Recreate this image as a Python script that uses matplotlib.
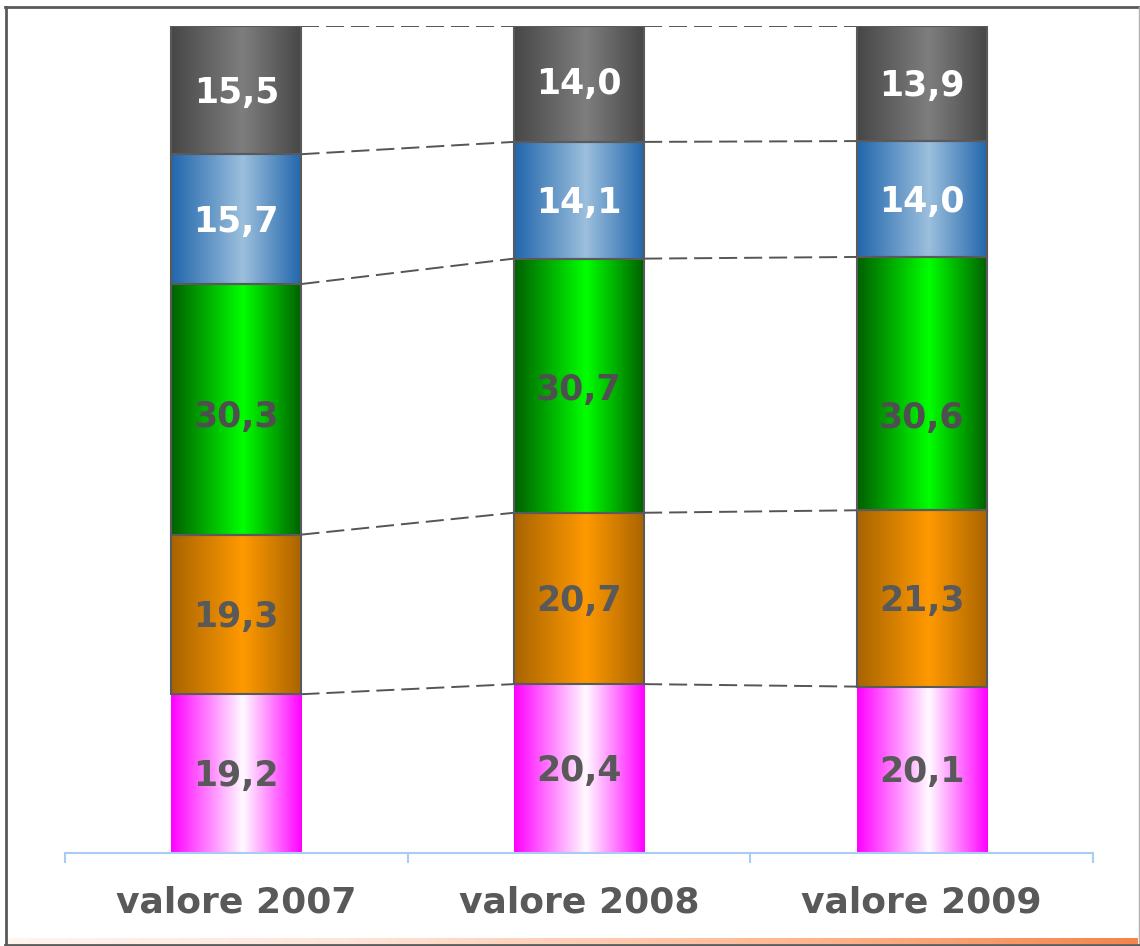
import numpy as np
import matplotlib.pyplot as plt
from matplotlib.colors import LinearSegmentedColormap
from matplotlib.lines import Line2D

plt.rcParams['lines.scale_dashes'] = False

# dati (percentuali per anno)
categorie = ['valore 2007', 'valore 2008', 'valore 2009']
rosa = [19.2, 20.4, 20.1]
arancio = [19.3, 20.7, 21.3]
verde = [30.3, 30.7, 30.6]
blu = [15.7, 14.1, 14.0]
grigio = [15.5, 14.0, 13.9]

serie = [rosa, arancio, verde, blu, grigio]
col_bordo = ['#FF00FF', '#A86400', '#005F00', '#2166AC', '#474747']
col_centro = ['#FFFAFF', '#FF9900', '#00FF00', '#9CBFDD', '#7E7E7E']
col_linea = ['none', '#5A5A5A', '#5A5A5A', '#5A5A5A', '#5A5A5A']
col_testo = ['#595959', '#595959', '#4F4F4F', 'white', 'white']
# piccoli spostamenti verticali delle etichette (pixel, verso il basso) come nel grafico originale
spost_etichette = [[0, 0, 0], [0, 0, 0], [5, 2, 32], [0, 0, 0], [0, -3, 0]]

W, H = 1140, 946
fig = plt.figure(figsize=(W / 100, H / 100), dpi=100)
ax = fig.add_axes([65 / W, 1 - 853 / H, (1093 - 65) / W, (853 - 26) / H])

valori = np.array(serie, dtype=float)
perc = valori / valori.sum(axis=0) * 100
x = np.arange(len(categorie))
larg = 0.38
grad = np.linspace(0, 1, 256).reshape(1, -1)
fs_val = 25
px = 72 / 100  # punti per pixel

base = np.zeros(len(categorie))
cime = []
for k in range(len(serie)):
    barre = ax.bar(x, perc[k], larg, bottom=base, color='none',
                   edgecolor=col_linea[k], linewidth=1.5, zorder=3)
    cmap = LinearSegmentedColormap.from_list(
        'g%d' % k, [(0, col_bordo[k]), (0.55, col_centro[k]), (1, col_bordo[k])])
    for b in barre:
        x0, y0 = b.get_x(), b.get_y()
        ax.imshow(grad, cmap=cmap, extent=(x0, x0 + b.get_width(), y0, y0 + b.get_height()),
                  aspect='auto', interpolation='bilinear', zorder=2)
    # etichette valori
    for i in range(len(categorie)):
        testo = ('%.1f' % valori[k][i]).replace('.', ',')
        dy = -0.729 * fs_val / 2 - spost_etichette[k][i] * px
        ax.annotate(testo, (x[i], base[i] + perc[k][i] / 2), xytext=(0, dy),
                    textcoords='offset points', ha='center', va='baseline',
                    fontsize=fs_val, fontweight='bold', color=col_testo[k], zorder=4)
    base = base + perc[k]
    cime.append(base.copy())

# linee di serie tratteggiate
for top in cime:
    for i in range(len(categorie) - 1):
        ax.plot([x[i] + larg / 2, x[i + 1] - larg / 2], [top[i], top[i + 1]],
                color='#555555', linewidth=1.4, linestyle=(0, (13, 5)), zorder=1)

ax.set_xlim(-0.5, 2.5)
ax.set_ylim(0, 100)
for s in ['left', 'right', 'top']:
    ax.spines[s].set_visible(False)
ax.spines['bottom'].set_color('#A8CCF5')
ax.spines['bottom'].set_linewidth(1.5)
ax.set_yticks([])
ax.set_xticks([])
ax.set_xticks([-0.5, 0.5, 1.5, 2.5], minor=True)
ax.tick_params(axis='x', which='minor', length=7, width=1.5, color='#A8CCF5', direction='out')

for i, c in enumerate(categorie):
    ax.text(x[i], -59 / 827 * 100, c, ha='center', va='baseline', fontsize=26,
            fontweight='bold', color='#595959')

# cornice
fig.add_artist(Line2D([6 / W, 6 / W], [0, 1 - 7 / H], transform=fig.transFigure,
                      color='#5A5A5A', linewidth=2))
fig.add_artist(Line2D([5 / W, 1], [1 - 7 / H, 1 - 7 / H], transform=fig.transFigure,
                      color='#5A5A5A', linewidth=2))
fig.add_artist(Line2D([1138.5 / W, 1138.5 / W], [0, 1 - 7 / H], transform=fig.transFigure,
                      color='#B0B0B0', linewidth=1))
striscia = fig.add_axes([7 / W, 1 - 944 / H, (1138 - 7) / W, 6 / H])
cmap_s = LinearSegmentedColormap.from_list('s', [(0, '#FFF4EF'), (0.3, '#FFE4D8'),
                                                 (0.7, '#FFB792'), (1, '#F5844B')])
striscia.imshow(grad, cmap=cmap_s, aspect='auto', extent=(0, 1, 0, 1))
striscia.axis('off')
fig.add_artist(Line2D([5 / W, 1], [1.2 / H, 1.2 / H], transform=fig.transFigure,
                      color='#5A5A5A', linewidth=2))

fig.savefig('out.png', dpi=100)
